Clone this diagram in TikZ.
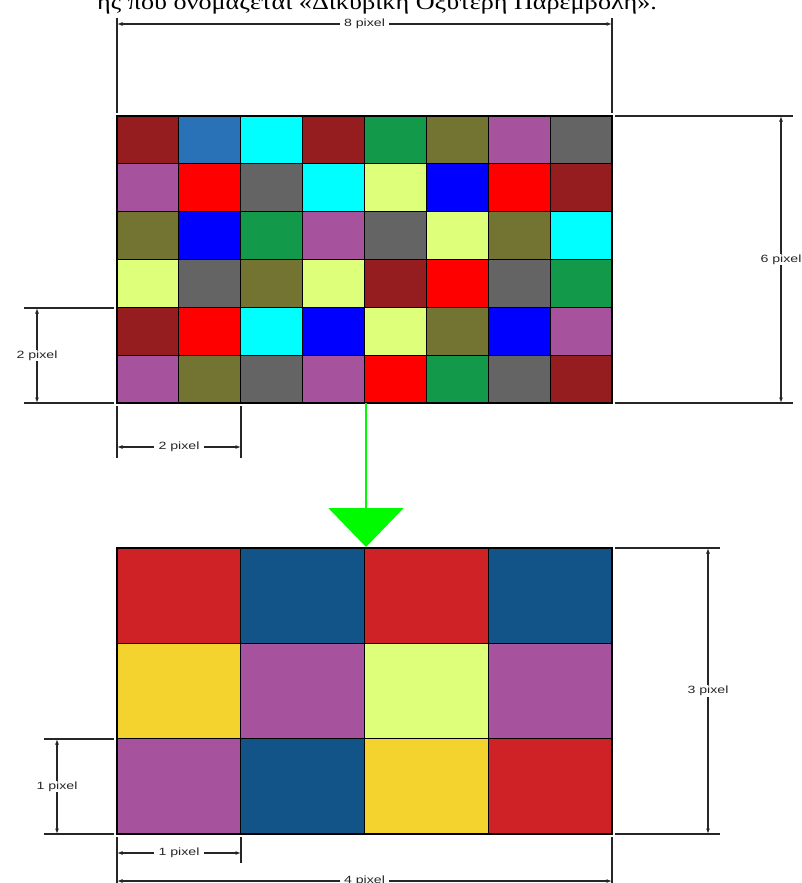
\documentclass[tikz,border=0pt]{standalone}
\usepackage{fontspec}
\setmainfont{Liberation Serif}
\setsansfont{Liberation Sans}
\usetikzlibrary{arrows.meta}

\begin{document}
\begin{tikzpicture}[x=1pt,y=-1pt,>=Latex,
  cell/.style={draw=black,line width=1.2pt},
  extline/.style={line width=1.1pt,black!85},
  dimline/.style={<->,line width=1.1pt,black!85,>={Latex[length=5.5pt,width=4pt]}},
  dimlabel/.style={fill=white,inner xsep=3pt,inner ysep=1pt,xscale=1.35,
    text=black!85,font=\sffamily\fontsize{10.5}{10.5}\selectfont}]

% colors
\definecolor{cDkRed}{RGB}{149,28,31}
\definecolor{cSteel}{RGB}{41,114,184}
\definecolor{cCyan}{RGB}{0,255,255}
\definecolor{cGreen}{RGB}{19,153,74}
\definecolor{cOlive}{RGB}{116,116,50}
\definecolor{cPurple}{RGB}{166,82,156}
\definecolor{cGray}{RGB}{100,100,100}
\definecolor{cRed}{RGB}{255,0,0}
\definecolor{cLime}{RGB}{221,255,122}
\definecolor{cBlue}{RGB}{0,0,255}
\definecolor{cCrimson}{RGB}{206,34,39}
\definecolor{cNavy}{RGB}{18,84,135}
\definecolor{cYellow}{RGB}{245,211,46}
\definecolor{cArrow}{RGB}{0,250,0}

\useasboundingbox (0,0) rectangle (802,883);

% geometry
\def\xa{117}
\def\ya{116}
\def\yb{548}
\def\cw{61.875}
\def\ch{47.83}
\def\dw{123.75}
\def\dh{95.33}

% caption line (cut at the top)
\node[anchor=base west,inner sep=0pt,xscale=1.2,font=\fontsize{21.8}{21.8}\selectfont] (caption)
  at (97,10) {ής που ονομάζεται «Δικυβική Οξύτερη Παρεμβολή».};

% 8x6 source grid
\foreach \r/\line in {
  0/{cDkRed,cSteel,cCyan,cDkRed,cGreen,cOlive,cPurple,cGray},
  1/{cPurple,cRed,cGray,cCyan,cLime,cBlue,cRed,cDkRed},
  2/{cOlive,cBlue,cGreen,cPurple,cGray,cLime,cOlive,cCyan},
  3/{cLime,cGray,cOlive,cLime,cDkRed,cRed,cGray,cGreen},
  4/{cDkRed,cRed,cCyan,cBlue,cLime,cOlive,cBlue,cPurple},
  5/{cPurple,cOlive,cGray,cPurple,cRed,cGreen,cGray,cDkRed}}{
  \foreach \c [count=\i from 0] in \line
    \filldraw[cell,fill=\c] ({\xa+\i*\cw},{\ya+\r*\ch}) rectangle ++(\cw,\ch);
}

% 4x3 result grid
\foreach \r/\line in {
  0/{cCrimson,cNavy,cCrimson,cNavy},
  1/{cYellow,cPurple,cLime,cPurple},
  2/{cPurple,cNavy,cYellow,cCrimson}}{
  \foreach \c [count=\i from 0] in \line
    \filldraw[cell,fill=\c] ({\xa+\i*\dw},{\yb+\r*\dh}) rectangle ++(\dw,\dh);
}

% reduction arrow
\coordinate (srcS) at (366,403);
\coordinate (dstN) at (366,547);
\draw[cArrow,line width=2pt,-{Triangle[length=39pt,width=75pt]}] (srcS) -- (dstN);

% 8 pixel
\draw[extline] (117,18) -- (117,113) (612,18) -- (612,113);
\coordinate (w8a) at (117,24);
\coordinate (w8b) at (612,24);
\draw[dimline] (w8a) -- node[dimlabel] (dim8) {8 pixel} (w8b);

% 6 pixel
\draw[extline] (615,116) -- (793,116) (615,403) -- (793,403);
\coordinate (h6a) at (781,116);
\coordinate (h6b) at (781,403);
\draw[dimline] (h6a) -- node[dimlabel] (dim6) {6 pixel} (h6b);

% 2 pixel (side)
\draw[extline] (24,308) -- (114,308) (24,403) -- (114,403);
\coordinate (h2a) at (37,308);
\coordinate (h2b) at (37,403);
\draw[dimline] (h2a) -- node[dimlabel] (dim2h) {2 pixel} (h2b);

% 2 pixel (below)
\draw[extline] (117,406) -- (117,458) (241,406) -- (241,458);
\coordinate (w2a) at (117,447);
\coordinate (w2b) at (241,447);
\draw[dimline] (w2a) -- node[dimlabel] (dim2w) {2 pixel} (w2b);

% 3 pixel
\draw[extline] (615,548) -- (720,548) (615,834) -- (720,834);
\coordinate (h3a) at (708,548);
\coordinate (h3b) at (708,834);
\draw[dimline] (h3a) -- node[dimlabel] (dim3) {3 pixel} (h3b);

% 1 pixel (side)
\draw[extline] (44,739) -- (114,739) (44,834) -- (114,834);
\coordinate (h1a) at (57,739);
\coordinate (h1b) at (57,834);
\draw[dimline] (h1a) -- node[dimlabel] (dim1h) {1 pixel} (h1b);

% 1 pixel (below)
\draw[extline] (117,837) -- (117,886) (241,837) -- (241,863) (612,837) -- (612,886);
\coordinate (w1a) at (117,853);
\coordinate (w1b) at (241,853);
\draw[dimline] (w1a) -- node[dimlabel] (dim1w) {1 pixel} (w1b);

% 4 pixel (cut at the bottom)
\coordinate (w4a) at (117,881);
\coordinate (w4b) at (612,881);
\draw[dimline] (w4a) -- node[dimlabel] (dim4) {4 pixel} (w4b);

\end{tikzpicture}
\end{document}
